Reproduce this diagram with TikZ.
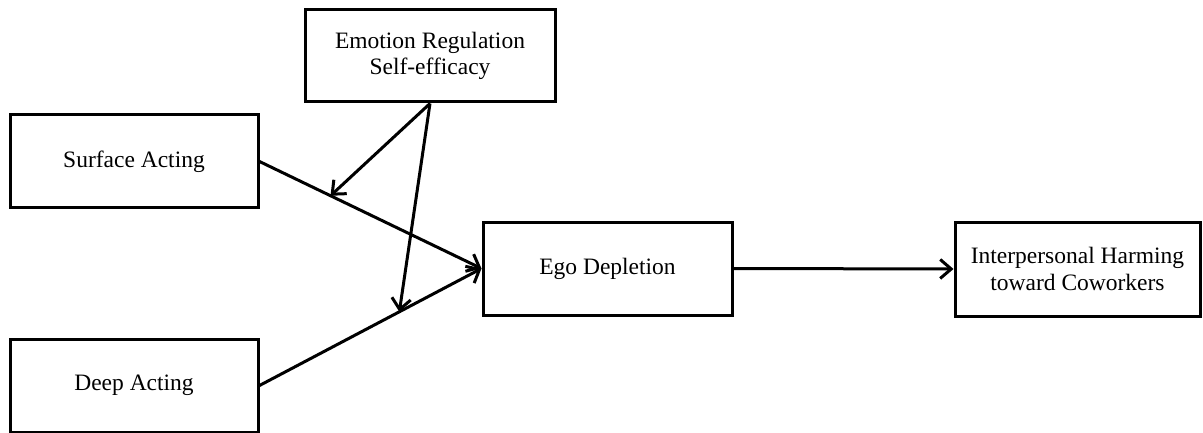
\documentclass[tikz,border=0pt]{standalone}
\usepackage{fontspec}
\setmainfont{Liberation Serif}
\usetikzlibrary{arrows.meta,calc}
\begin{document}
\begin{tikzpicture}[x=1pt,y=-1pt,
  box/.style={draw,line width=3pt,rectangle,inner sep=0pt,align=center,
    font=\fontsize{23.5}{26.5}\selectfont},
  conn/.style={line width=3pt,-{Straight Barb[length=11pt,width=19pt,line width=3pt]}}]
\useasboundingbox (0,0) rectangle (1203,433);
\node[box,minimum width=250pt,minimum height=92pt] (ers) at (430,56) {Emotion Regulation\\Self-efficacy};
\node[box,minimum width=248pt,minimum height=93pt] (sa) at (134,161.5) {Surface Acting};
\node[box,minimum width=248pt,minimum height=93pt] (da) at (134,385.5) {Deep Acting};
\node[box,minimum width=249pt,minimum height=93pt] (ego) at (607.5,268.5) {Ego Depletion};
\node[box,minimum width=245pt,minimum height=94pt] (ip) at (1077.5,269) {Interpersonal Harming\\toward Coworkers};
\draw[conn] (sa.east) -- (ego.west);
\draw[conn] (da.east) -- (ego.west);
\draw[conn] (ego.east) -- (ip.west);
\coordinate (m1) at ($(sa.east)!0.32!(ego.west)$);
\coordinate (m2) at ($(da.east)!0.63!(ego.west)$);
\draw[conn] (ers.south) -- (m1);
\draw[conn] (ers.south) -- (m2);
\end{tikzpicture}
\end{document}
